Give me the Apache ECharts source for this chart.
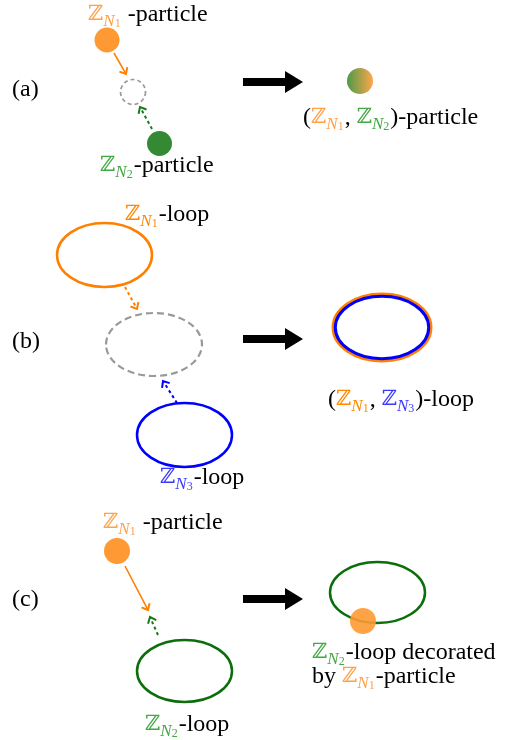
<!DOCTYPE html>
<html><head><meta charset="utf-8">
<script src="https://cdn.jsdelivr.net/npm/echarts@6/dist/echarts.min.js"></script>
<style>html,body{margin:0;padding:0;background:#fff}#c{width:524px;height:740px}</style>
</head><body><div id="c"></div>
<script>
// Diagram geometry (diagram units, x to the right, y downwards)
const loops = [ // name, cx, cy, rx, ry, style
  ['b-N1', 104.5, 255, 47.5, 32, 'orange'],
  ['b-ghost', 154, 344.5, 48, 31.5, 'ghost'],
  ['b-N3', 184.5, 435, 47.5, 32, 'blue'],
  ['b-fused', 382, 327.5, 47, 31.5, 'fused'],
  ['c-N2', 184.5, 671, 47.5, 31, 'green'],
  ['c-deco', 377.5, 592.5, 47.5, 30.5, 'green']
];
const particles = [ // name, cx, cy, r, style
  ['a-N1', 107, 40, 12.5, 'orange'],
  ['a-ghost', 133, 92, 12.5, 'ghost'],
  ['a-N2', 159.5, 143.5, 12.5, 'green'],
  ['a-fused', 360, 81, 13, 'gradient'],
  ['c-N1', 117, 551, 13, 'orange'],
  ['c-deco', 363, 621, 13, 'orangeT']
];
const moves = [ // name, x tail, y tail, x tip, y tip, style
  ['a-N1', 114, 53, 126, 74, 'orangeSolid'],
  ['a-N2', 152, 129, 140, 107, 'greenDash'],
  ['b-N1', 125, 287, 137, 309, 'orangeDash'],
  ['b-N3', 177, 403, 163, 381, 'blueDash'],
  ['c-N1', 125, 566, 148, 610, 'orangeSolid'],
  ['c-N2', 158, 635, 150, 617, 'greenDash']
];
const fuseArrows = [ // name, x start, x end, y
  ['a', 243, 303, 82],
  ['b', 243, 303, 339],
  ['c', 243, 303, 599]
];
const panelLabels = [ // text, x, y
  ['(a)', 12, 90], ['(b)', 12, 342], ['(c)', 12, 600]
];
const Z = (c, n) => `{z${c}|ℤ}{n${c}|N}{d${c}|${n}}`;
const texts = [ // rich text, x, y
  [Z('o', 1) + '{t| -particle}', 88, 15],
  [Z('g', 2) + '{t|-particle}', 100, 166],
  ['{t|(}' + Z('o', 1) + '{t|, }' + Z('g', 2) + '{t|)-particle}', 303, 118],
  [Z('O', 1) + '{t|-loop}', 125, 215],
  [Z('b', 3) + '{t|-loop}', 160, 478],
  ['{t|(}' + Z('O', 1) + '{t|, }' + Z('b', 3) + '{t|)-loop}', 328, 400],
  [Z('o', 1) + '{t| -particle}', 103, 523],
  [Z('g', 2) + '{t|-loop}', 145, 725],
  [Z('g', 2) + '{t|-loop decorated}', 312, 653],
  ['{t|by }' + Z('o', 1) + '{t|-particle}', 312, 677]
];

// styles
const C = {orangeP:'#ff9933', orange:'#ff8000', green:'#338a33', greenLoop:'#0b6e0b',
  greenArrow:'#1a7a1a', blue:'#0000ff', gray:'#999999'};
const textColors = {o:'#ffa04a', O:'#ff8800', g:'#44a844', b:'#3a3aff'};
const rich = {t:{fontFamily:'Liberation Serif', fontSize:24, fill:'#000', lineHeight:30}};
for (const k in textColors) {
  rich['z'+k] = {fontFamily:'DejaVu Serif', fontSize:21, fill:textColors[k], lineHeight:30};
  rich['n'+k] = {fontFamily:'Liberation Serif', fontStyle:'italic', fontSize:17, fill:textColors[k], lineHeight:18, verticalAlign:'bottom'};
  rich['d'+k] = {fontFamily:'Liberation Serif', fontSize:12, fill:textColors[k], lineHeight:12, verticalAlign:'bottom', padding:[0,1,0,0]};
}
const loopStyle = {
  orange:[{stroke:C.orange, lineWidth:2.5, d:0}],
  ghost:[{stroke:C.gray, lineWidth:2.2, lineDash:[7,4], d:0}],
  blue:[{stroke:C.blue, lineWidth:2.5, d:0}],
  fused:[{stroke:C.orange, lineWidth:4.5, d:1.2},{stroke:C.blue, lineWidth:3, d:-0.3}],
  green:[{stroke:C.greenLoop, lineWidth:2.5, d:0}]
};
const particleStyle = {
  orange:{fill:C.orangeP},
  green:{fill:C.green},
  ghost:{fill:'none', stroke:C.gray, lineWidth:1.7, lineDash:[4,3]},
  gradient:{fill:new echarts.graphic.LinearGradient(0,0,1,0,[{offset:0,color:'#4e9a48'},{offset:1,color:'#ffa64d'}])},
  orangeT:{fill:C.orangeP, opacity:0.9}
};
const moveStyle = {
  orangeSolid:{stroke:C.orange, lineWidth:1.6},
  orangeDash:{stroke:C.orange, lineWidth:2, lineDash:[3,3]},
  greenDash:{stroke:C.greenArrow, lineWidth:2, lineDash:[3,3]},
  blueDash:{stroke:C.blue, lineWidth:2, lineDash:[3,3]}
};

const allTexts = texts.concat(panelLabels.map(q => ['{t|' + q[0] + '}', q[1], q[2]]));
const base = {type:'custom', coordinateSystem:'cartesian2d', silent:true, animation:false, encode:{x:0,y:1}};
const option = {
  animation:false,
  grid:{left:0,right:0,top:0,bottom:0},
  xAxis:{type:'value', min:0, max:524, show:false},
  yAxis:{type:'value', min:0, max:740, inverse:true, show:false},
  series:[
    Object.assign({}, base, {
      name:'loops',
      data: loops.map(l => ({name:l[0], value:[l[1],l[2],l[3],l[4]]})),
      renderItem(params, api) {
        const p = api.coord([api.value(0), api.value(1)]);
        const s = api.size([api.value(2), api.value(3)]);
        const st = loopStyle[loops[params.dataIndex][5]];
        return {type:'group', children: st.map(x => {
          const sty = Object.assign({fill:'none'}, x); delete sty.d;
          return {type:'ellipse', shape:{cx:p[0], cy:p[1], rx:s[0]+x.d, ry:s[1]+x.d}, style:sty};
        })};
      }
    }),
    Object.assign({}, base, {
      name:'moves',
      data: moves.map(m => ({name:m[0], value:[m[1],m[2],m[3],m[4]]})),
      renderItem(params, api) {
        const a = api.coord([api.value(0), api.value(1)]);
        const b = api.coord([api.value(2), api.value(3)]);
        const st = moveStyle[moves[params.dataIndex][5]];
        const dx = b[0]-a[0], dy = b[1]-a[1], L = Math.hypot(dx,dy);
        const ux = dx/L, uy = dy/L, len = 7, th = 0.7;
        const arm = s => [b[0] - len*(ux*Math.cos(th) - s*uy*Math.sin(th)), b[1] - len*(uy*Math.cos(th) + s*ux*Math.sin(th))];
        return {type:'group', children:[
          {type:'line', shape:{x1:a[0], y1:a[1], x2:b[0]-ux*1, y2:b[1]-uy*1}, style:Object.assign({fill:'none'}, st)},
          {type:'polyline', shape:{points:[arm(1), b, arm(-1)]}, style:{stroke:st.stroke, lineWidth:2, fill:'none', lineJoin:'miter'}}
        ]};
      }
    }),
    Object.assign({}, base, {
      name:'particles',
      data: particles.map(p => ({name:p[0], value:[p[1],p[2],p[3]]})),
      renderItem(params, api) {
        const p = api.coord([api.value(0), api.value(1)]);
        const r = api.size([api.value(2), 0])[0];
        const st = particleStyle[particles[params.dataIndex][4]];
        return {type:'circle', shape:{cx:p[0], cy:p[1], r:r}, style:Object.assign({}, st)};
      }
    }),
    Object.assign({}, base, {
      name:'fuse',
      data: fuseArrows.map(f => ({name:f[0], value:[f[1], f[3], f[2]]})),
      renderItem(params, api) {
        const a = api.coord([api.value(0), api.value(1)]);
        const b = api.coord([api.value(2), api.value(1)]);
        const y = a[1], h = 4, H = 11, xh = b[0]-18;
        return {type:'polygon', shape:{points:[[a[0],y-h],[xh,y-h],[xh,y-H],[b[0],y],[xh,y+H],[xh,y+h],[a[0],y+h]]}, style:{fill:'#000'}};
      }
    }),
    Object.assign({}, base, {
      name:'texts',
      data: allTexts.map(t => ({name:'', value:[t[1], t[2]]})),
      renderItem(params, api) {
        const p = api.coord([api.value(0), api.value(1)]);
        return {type:'text', x:p[0], y:p[1], style:{text:allTexts[params.dataIndex][0], rich:rich, align:'left', verticalAlign:'middle'}};
      }
    })
  ]
};
echarts.init(document.getElementById('c'), null, {renderer:'canvas'}).setOption(option);
</script></body></html>
